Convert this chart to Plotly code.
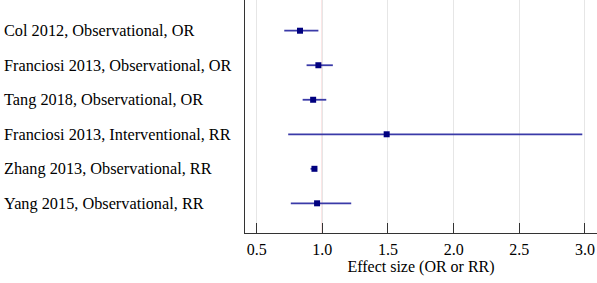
import plotly.graph_objects as go

studies = [
    "Col 2012, Observational, OR",
    "Franciosi 2013, Observational, OR",
    "Tang 2018, Observational, OR",
    "Franciosi 2013, Interventional, RR",
    "Zhang 2013, Observational, RR",
    "Yang 2015, Observational, RR",
]
effect = [0.83, 0.97, 0.93, 1.49, 0.94, 0.96]
ci_low = [0.71, 0.88, 0.85, 0.74, 0.91, 0.76]
ci_high = [0.97, 1.08, 1.03, 2.98, 0.96, 1.22]
x_ticks = [0.5, 1.0, 1.5, 2.0, 2.5, 3.0]
x_tick_labels = ["0.5", "1.0", "1.5", "2.0", "2.5", "3.0"]

FONT = "Liberation Serif, Times New Roman, serif"
W, H = 597, 283
ML, MR, MT, MB = 245, 0, 0, 50
plot_w = W - ML - MR

ypos = list(range(1, len(studies) + 1))

fig = go.Figure()
fig.add_trace(go.Scatter(
    x=effect, y=ypos, mode="markers",
    marker=dict(symbol="square", size=6, color="#00007f"),
    error_x=dict(type="data", symmetric=False,
                 array=[h - e for h, e in zip(ci_high, effect)],
                 arrayminus=[e - l for e, l in zip(effect, ci_low)],
                 width=0, thickness=1.8, color="#3a3aa8"),
    showlegend=False, hoverinfo="skip",
))

fig.add_shape(type="line", xref="x", yref="paper", x0=1.0, x1=1.0, y0=0, y1=1,
              line=dict(color="#f4a3a3", width=1.2), layer="below")

for s, y in zip(studies, ypos):
    fig.add_annotation(text=s, xref="paper", yref="y", x=(2 - ML) / plot_w, y=y,
                       xanchor="left", yanchor="middle", showarrow=False,
                       font=dict(family=FONT, size=16.3, color="#000000"))

fig.update_layout(
    width=W, height=H,
    margin=dict(l=ML, r=MR, t=MT, b=MB, autoexpand=False),
    paper_bgcolor="white", plot_bgcolor="white",
    font=dict(family=FONT, size=16, color="#000000"),
    xaxis=dict(range=[0.411, 3.092], tickvals=x_ticks, ticktext=x_tick_labels,
               showgrid=True, gridcolor="#e6e6e6", gridwidth=1,
               zeroline=False, showline=True, linecolor="#333333", linewidth=1.2,
               ticks="inside", ticklen=10, tickcolor="#333333", tickwidth=1.2,
               ticklabelstandoff=2,
               tickfont=dict(family=FONT, size=16),
               title=dict(text="Effect size (OR or RR)", standoff=0,
                          font=dict(family=FONT, size=16))),
    yaxis=dict(range=[6.86, 0.11], showticklabels=False, showgrid=False,
               zeroline=False, showline=True, linecolor="#333333", linewidth=1.2,
               ticks=""),
)

fig.write_html("out.html", config={"displayModeBar": False},
               post_script="document.body.style.margin='0';")
